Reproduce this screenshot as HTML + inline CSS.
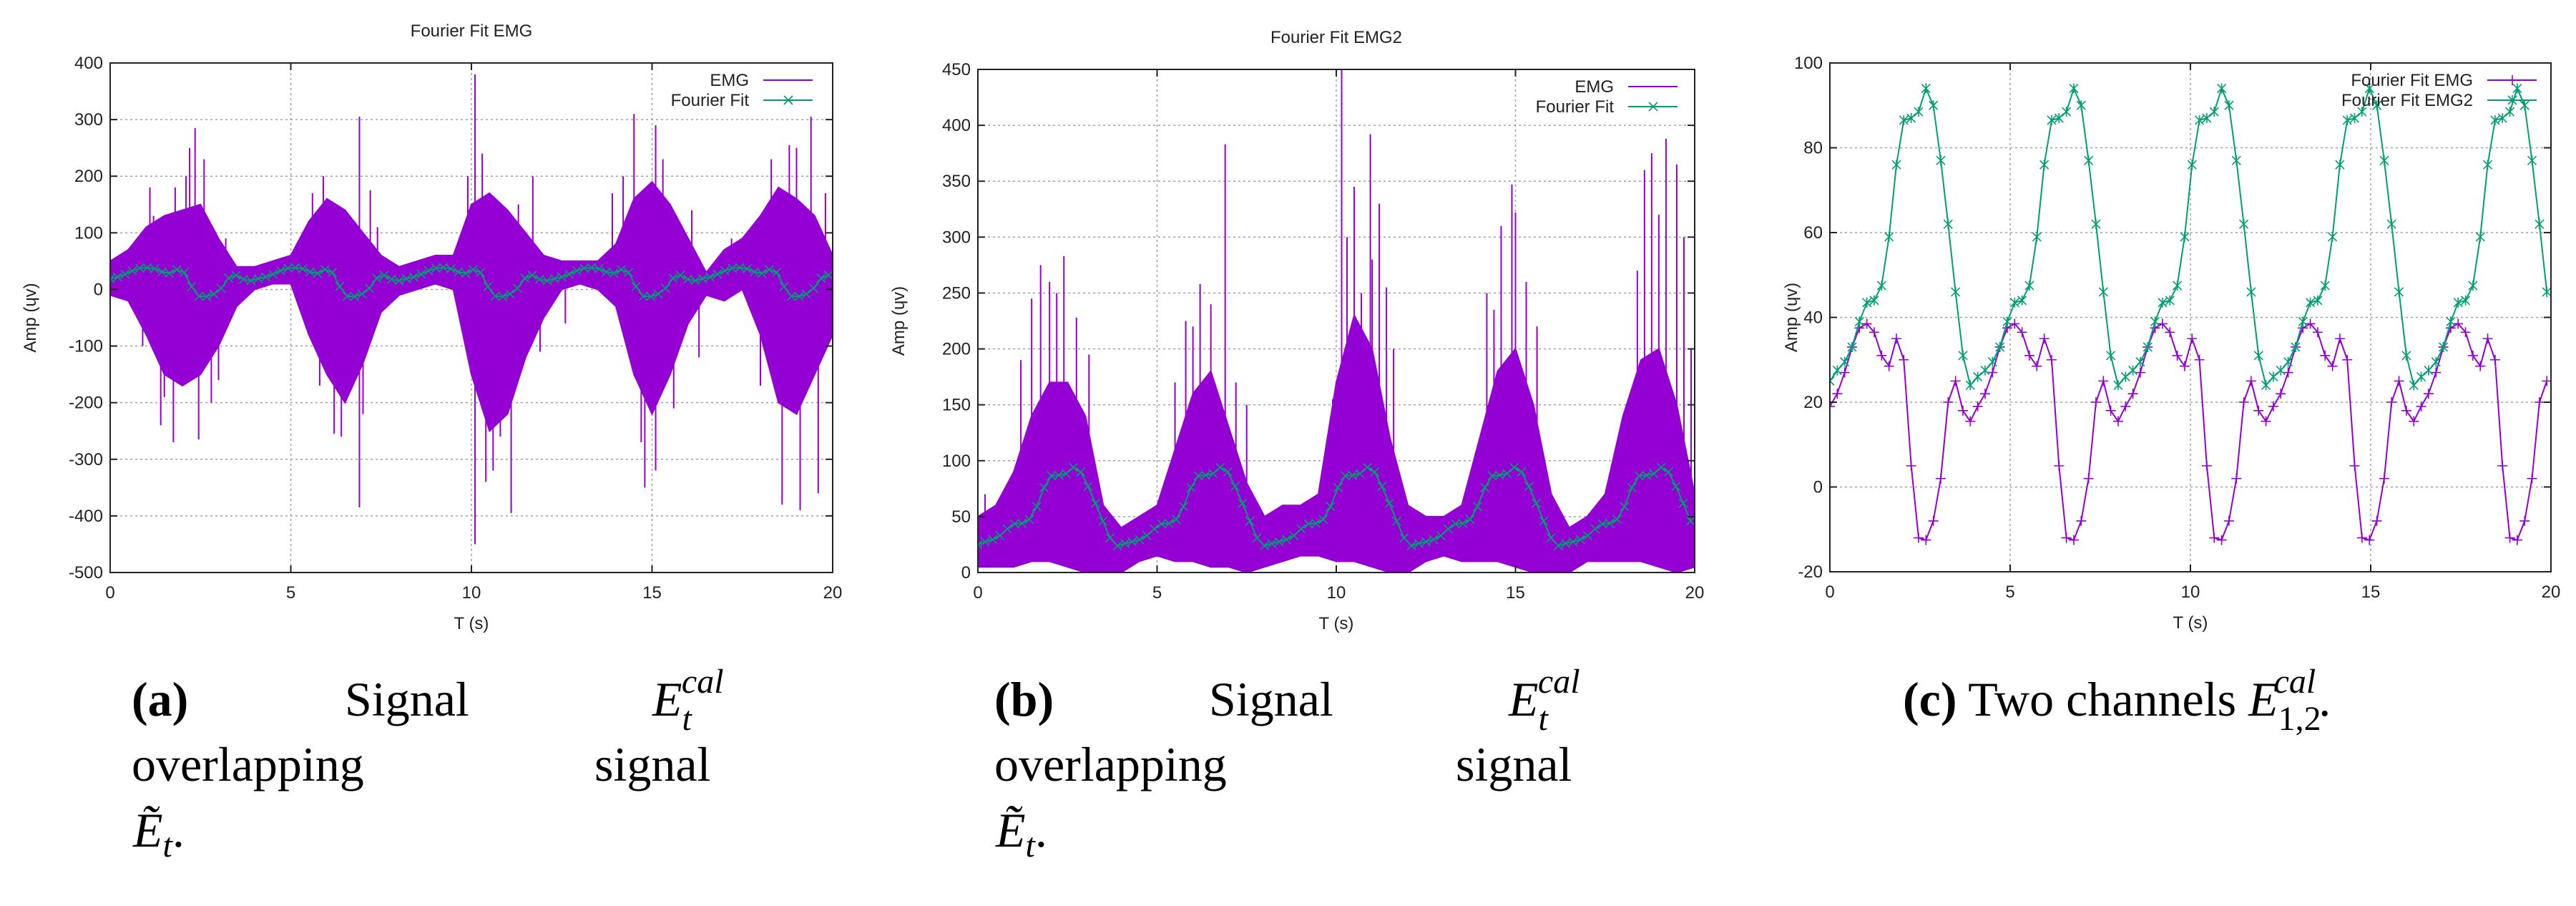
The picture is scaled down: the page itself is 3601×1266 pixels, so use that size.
<!DOCTYPE html>
<html><head><meta charset="utf-8">
<style>
html,body{margin:0;padding:0;background:#fff;}
svg{display:block;}
.tk{font-family:"Liberation Sans",sans-serif;font-size:24px;fill:#222;}
.cap{font-family:"Liberation Serif",serif;font-size:68px;fill:#000;}
</style></head>
<body>
<svg id="fig" width="3601" height="1266" viewBox="0 0 3601 1266" xmlns="http://www.w3.org/2000/svg">
<g id="pa"></g>
<g id="pb"></g>
<g id="pc"></g>
<g>
<text class="cap" x="184" y="1000"><tspan font-weight="bold">(a)</tspan></text>
<text class="cap" x="482" y="1000">Signal</text>
<text class="cap" x="912" y="1000" font-style="italic">E<tspan dy="20" font-size="48">t</tspan><tspan dx="-14" dy="-52" font-size="48">cal</tspan></text>
<text class="cap" x="184" y="1091">overlapping</text>
<text class="cap" x="831" y="1091">signal</text>
<text class="cap" x="186" y="1183" font-style="italic">Ẽ<tspan dy="14" font-size="48">t</tspan><tspan dy="-14" font-style="normal">.</tspan></text>
</g>
<g>
<text class="cap" x="1390" y="1000"><tspan font-weight="bold">(b)</tspan></text>
<text class="cap" x="1690" y="1000">Signal</text>
<text class="cap" x="2109" y="1000" font-style="italic">E<tspan dy="20" font-size="48">t</tspan><tspan dx="-14" dy="-52" font-size="48">cal</tspan></text>
<text class="cap" x="1390" y="1091">overlapping</text>
<text class="cap" x="2035" y="1091">signal</text>
<text class="cap" x="1392" y="1183" font-style="italic">Ẽ<tspan dy="14" font-size="48">t</tspan><tspan dy="-14" font-style="normal">.</tspan></text>
</g>
<g>
<text class="cap" x="2660" y="1000"><tspan font-weight="bold">(c)</tspan> Two channels <tspan font-style="italic">E</tspan><tspan dy="20" font-size="48">1,2</tspan><tspan dx="-66" dy="-52" font-size="48" font-style="italic">cal</tspan><tspan dx="4" dy="32">.</tspan></text>
</g>
</svg>
<script>
// ---- data ----
const fitTimes = [];
const fitStep = 0.205;
const fitEmg = [19,22,27,33,37.5,38.5,36.5,31,28.5,35,30,5,-12,-12.5,-8,2,20,25,18,15.5,
19,22,27,33,37.5,38.5,36.5,31,28.5,35,30,5,-12,-12.5,-8,2,20,25,18,15.5,
19,22,27,33,37.5,38.5,36.5,31,28.5,35,30,5,-12,-12.5,-8,2,20,25,18,15.5,
19,22,27,33,37.5,38.5,36.5,31,28.5,35,30,5,-12,-12.5,-8,2,20,25,18,15.5,
19,22,27,33,37.5,38.5,36.5,31,28.5,35,30,5,-12,-12.5,-8,2,20,25];
const fitEmg2 = [25,27.5,29.5,33,39,43.5,44,47.5,59,76,86.5,87,88.5,94,90,77,62,46,31,24,
26,27.5,29.5,33,39,43.5,44,47.5,59,76,86.5,87,88.5,94,90,77,62,46,31,24,
26,27.5,29.5,33,39,43.5,44,47.5,59,76,86.5,87,88.5,94,90,77,62,46,31,24,
26,27.5,29.5,33,39,43.5,44,47.5,59,76,86.5,87,88.5,94,90,77,62,46,31,24,
26,27.5,29.5,33,39,43.5,44,47.5,59,76,86.5,87,88.5,94,90,77,62,46];
for (let i = 0; i < fitEmg.length; i++) fitTimes.push(i * fitStep);

const envTimes = [0,0.5,1,1.5,2,2.5,3,3.5,4,4.5,5,5.5,6,6.5,7,7.5,8,8.5,9,9.5,10,10.5,11,11.5,12,12.5,13,13.5,14,14.5,15,15.5,16,16.5,17,17.5,18,18.5,19,19.5,20];
const emgUpper = [50,70,110,130,140,150,90,40,40,50,60,120,160,140,100,60,40,50,60,60,150,170,140,100,60,50,50,50,80,160,190,150,90,30,70,90,130,180,160,130,60];
const emgLower = [-10,-20,-80,-150,-170,-150,-100,-30,0,10,10,-80,-150,-200,-130,-40,-10,0,10,0,-150,-250,-220,-120,-50,0,10,0,-30,-150,-220,-150,-60,-10,-20,0,-80,-200,-220,-150,-80];
const emgSpikeT = [0.6,1.2,1.5,1.75,2.1,2.35,2.45,3.0,6.2,6.9,6.9,7.2,10.1,10.1,10.3,10.6,11.1,11.7,14.5,14.8,15.1,15.1,18.6,18.8,19.1,19.4,19.6,5.9,13.9,16.3,
 0.9,1.1,1.4,1.8,2.2,2.6,2.8,3.2,5.6,5.8,6.4,6.6,7.0,7.4,9.9,10.4,10.8,11.3,11.9,12.6,14.2,14.7,15.3,15.6,16.1,17.2,18.0,18.3,19.0,19.8];
const emgSpikeV = [75,130,-190,-270,200,285,-265,-160,-255,305,-385,175,380,-450,240,-320,-395,200,310,-350,290,-320,-380,255,-390,305,-360,200,170,-120,
 -100,180,-240,180,250,230,-200,90,170,-170,-260,120,-220,110,200,-340,-260,150,-110,-60,200,-270,230,-210,140,90,-170,230,250,170];

const emg2Upper = [50,60,90,140,170,170,140,60,40,50,60,110,160,180,130,80,50,60,60,70,170,230,200,120,60,50,50,60,120,180,200,150,70,40,50,70,140,190,200,150,70];
const emg2Lower = [5,5,5,10,10,5,0,0,0,10,15,10,10,5,5,0,5,10,15,15,10,10,5,0,0,10,15,10,10,10,5,0,0,0,10,10,10,10,5,0,5];
const emg2SpikeT = [0.2,1.75,2.4,2.75,5.8,6.2,6.9,7.5,10.15,10.5,10.95,11.2,11.4,14.6,14.9,15.0,18.8,19.2,19.5,19.9,
 1.2,1.5,2.0,2.2,3.1,5.5,6.0,6.5,7.2,9.9,10.3,10.7,11.0,11.6,14.2,14.4,15.3,15.6,18.4,18.6,19.0,19.7];
const emg2SpikeV = [70,275,283,228,225,258,383,150,450,345,392,330,255,310,347,322,375,388,365,200,
 190,245,260,250,195,170,220,240,170,155,300,250,280,200,250,235,260,220,270,360,320,300];

const xTicks = [0,5,10,15,20];
const aTicks = [-500,-400,-300,-200,-100,0,100,200,300,400];
const bTicks = [0,50,100,150,200,250,300,350,400,450];
const cTicks = [-20,0,20,40,60,80,100];

const PURPLE = '#9400d3', GREEN = '#009e73';
const NS = 'http://www.w3.org/2000/svg';
function mk(parent, tag, attrs, txt) {
  const e = document.createElementNS(NS, tag);
  for (const k in attrs) e.setAttribute(k, attrs[k]);
  if (txt !== undefined) e.textContent = txt;
  parent.appendChild(e);
  return e;
}
function marker(g, x, y, type, color) {
  const s = 6;
  let d = '';
  if (type === 'x' || type === 'star') d += `M${x-s} ${y-s}L${x+s} ${y+s}M${x-s} ${y+s}L${x+s} ${y-s}`;
  if (type === 'star') d += `M${x} ${y-s-1}L${x} ${y+s+1}`;
  if (type === 'plus') d += `M${x-s-1} ${y}L${x+s+1} ${y}M${x} ${y-s-1}L${x} ${y+s+1}`;
  const m = mk(g, 'path', {d: d, stroke: color, 'stroke-width': 1.6, fill: 'none'});
  
  
}

function panel(g, c) {
  const X = t => c.x0 + (t - 0) / 20 * (c.x1 - c.x0);
  const Y = v => c.y1 - (v - c.ymin) / (c.ymax - c.ymin) * (c.y1 - c.y0);
  const clip = 'clip' + c.id;
  const defs = mk(g, 'defs', {});
  const cp = mk(defs, 'clipPath', {id: clip});
  mk(cp, 'rect', {x: c.x0, y: c.y0, width: c.x1 - c.x0, height: c.y1 - c.y0});
  if (c.title) {
    const tt = mk(g, 'text', {x: (c.x0 + c.x1) / 2, y: c.ty, 'text-anchor': 'middle', class: 'tk'}, c.title);
    
    
  }
  const grid = mk(g, 'g', {stroke: '#a0a0a0', 'stroke-width': 1.5, 'stroke-dasharray': '3,4'});
  
  
  c.yTicks.forEach(v => { if (v > c.ymin && v < c.ymax) mk(grid, 'line', {x1: c.x0, x2: c.x1, y1: Y(v), y2: Y(v)}); });
  xTicks.forEach(t => { if (t > 0 && t < 20) mk(grid, 'line', {x1: X(t), x2: X(t), y1: c.y0, y2: c.y1}); });
  const data = mk(g, 'g', {'clip-path': `url(#${clip})`});
  
  
  if (c.upper) {
    let d = '';
    envTimes.forEach((t, i) => { d += (i ? 'L' : 'M') + X(t) + ' ' + Y(c.upper[i]); });
    for (let i = envTimes.length - 1; i >= 0; i--) d += 'L' + X(envTimes[i]) + ' ' + Y(c.lower[i]);
    const band = mk(data, 'path', {d: d + 'Z', fill: PURPLE, stroke: PURPLE, 'stroke-width': 2});
    
    
    const sp = mk(data, 'g', {stroke: PURPLE, 'stroke-width': 2});
    
    
    c.spT.forEach((t, i) => {
      mk(sp, 'line', {x1: X(t), x2: X(t), y1: Y(c.spV[i] > 0 ? 30 : 0), y2: Y(c.spV[i])});
    });
  }
  c.fits.forEach(f => {
    let d = '';
    fitTimes.forEach((t, i) => { d += (i ? 'L' : 'M') + X(t).toFixed(1) + ' ' + Y(f.v[i]).toFixed(1); });
    const ln = mk(data, 'path', {d: d, fill: 'none', stroke: f.color, 'stroke-width': 2});
    
    
    fitTimes.forEach((t, i) => marker(data, X(t), Y(f.v[i]), f.mk, f.color));
  });
  const fr = mk(g, 'rect', {x: c.x0, y: c.y0, width: c.x1 - c.x0, height: c.y1 - c.y0, fill: 'none', stroke: '#222', 'stroke-width': 2});
  
  
  const tk = mk(g, 'g', {stroke: '#222', 'stroke-width': 2});
  c.yTicks.forEach(v => {
    mk(tk, 'line', {x1: c.x0, x2: c.x0 + 10, y1: Y(v), y2: Y(v)});
    mk(tk, 'line', {x1: c.x1, x2: c.x1 - 10, y1: Y(v), y2: Y(v)});
    const l = mk(g, 'text', {x: c.x0 - 10, y: Y(v) + 8, 'text-anchor': 'end', class: 'tk'}, String(v));
    
    
  });
  xTicks.forEach(t => {
    mk(tk, 'line', {x1: X(t), x2: X(t), y1: c.y1, y2: c.y1 - 10});
    mk(tk, 'line', {x1: X(t), x2: X(t), y1: c.y0, y2: c.y0 + 10});
    const l = mk(g, 'text', {x: X(t), y: c.y1 + 36, 'text-anchor': 'middle', class: 'tk'}, String(t));
    
    
  });
  const xl = mk(g, 'text', {x: (c.x0 + c.x1) / 2, y: c.y1 + 79, 'text-anchor': 'middle', class: 'tk'}, 'T (s)');
  
  
  const yl = mk(g, 'text', {x: 0, y: 0, 'text-anchor': 'middle', class: 'tk', transform: `translate(${c.ylx},${(c.y0 + c.y1) / 2}) rotate(-90)`}, 'Amp (ɥv)');
  
  
  c.legend.forEach((L, i) => {
    const y = c.ly + i * 28;
    const lt = mk(g, 'text', {x: c.lx - 20, y: y + 8, 'text-anchor': 'end', class: 'tk'}, L.label);
    
    
    mk(g, 'line', {x1: c.lx, x2: c.lx + 69, y1: y, y2: y, stroke: L.color, 'stroke-width': 2});
    if (L.mk) marker(g, c.lx + 35, y, L.mk, L.color);
  });
}

panel(document.getElementById('pa'), {id: 'a', x0: 154, x1: 1164, y0: 88, y1: 800, ymin: -500, ymax: 400, yTicks: aTicks,
  title: 'Fourier Fit EMG', ty: 51, ylx: 50, upper: emgUpper, lower: emgLower, spT: emgSpikeT, spV: emgSpikeV,
  fits: [{v: fitEmg, color: GREEN, mk: 'x', name: 'fourier-fit-line'}],
  lx: 1067, ly: 112, legend: [{label: 'EMG', color: PURPLE}, {label: 'Fourier Fit', color: GREEN, mk: 'x'}]});
panel(document.getElementById('pb'), {id: 'b', x0: 1367, x1: 2369, y0: 97, y1: 800, ymin: 0, ymax: 450, yTicks: bTicks,
  title: 'Fourier Fit EMG2', ty: 60, ylx: 1264, upper: emg2Upper, lower: emg2Lower, spT: emg2SpikeT, spV: emg2SpikeV,
  fits: [{v: fitEmg2, color: GREEN, mk: 'x', name: 'fourier-fit-line'}],
  lx: 2276, ly: 121, legend: [{label: 'EMG', color: PURPLE}, {label: 'Fourier Fit', color: GREEN, mk: 'x'}]});
panel(document.getElementById('pc'), {id: 'c', x0: 2558, x1: 3566, y0: 88, y1: 799, ymin: -20, ymax: 100, yTicks: cTicks,
  title: null, ylx: 2512,
  fits: [{v: fitEmg, color: PURPLE, mk: 'plus', name: 'fourier-fit-emg-line'}, {v: fitEmg2, color: GREEN, mk: 'star', name: 'fourier-fit-emg2-line'}],
  lx: 3477, ly: 112, legend: [{label: 'Fourier Fit EMG', color: PURPLE, mk: 'plus'}, {label: 'Fourier Fit EMG2', color: GREEN, mk: 'star'}]});
</script>
</body></html>
